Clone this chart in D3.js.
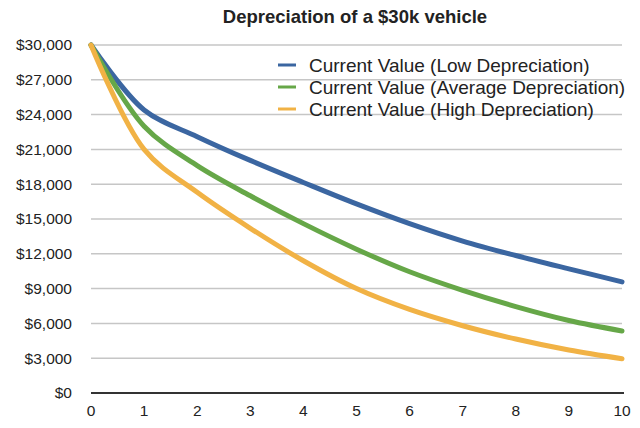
<!DOCTYPE html>
<html>
<head>
<meta charset="utf-8">
<script src="https://cdn.jsdelivr.net/npm/d3@7"></script>
<style>
  body { margin: 0; background: #fff; }
  text { font-family: "Liberation Sans", Arial, sans-serif; fill: #222; }
</style>
</head>
<body>
<svg id="chart" width="640" height="428"></svg>
<script>
'use strict';

var years = [0, 1, 2, 3, 4, 5, 6, 7, 8, 9, 10];
var lowDep = [30000, 24400, 22100, 20050, 18150, 16300, 14600, 13100, 11850, 10700, 9580];
var avgDep = [30000, 23000, 19600, 17000, 14600, 12400, 10450, 8850, 7450, 6250, 5350];
var highDep = [30000, 21000, 17300, 14200, 11400, 9000, 7200, 5800, 4650, 3700, 2950];
var yTicks = [0, 3000, 6000, 9000, 12000, 15000, 18000, 21000, 24000, 27000, 30000];
var seriesNames = ["Current Value (Low Depreciation)", "Current Value (Average Depreciation)", "Current Value (High Depreciation)"];

var colors = ["#3b66a1", "#66a748", "#f1b245"];

var svg = d3.select("#chart");
var margin = {left: 91, right: 18, top: 45, bottom: 35};
var width = 640, height = 428;

var x = d3.scaleLinear().domain([0, 10]).range([margin.left, width - margin.right]);
var y = d3.scaleLinear().domain([0, 30000]).range([height - margin.bottom, margin.top]);

// gridlines
svg.append("g")
   .selectAll("line")
   .data(yTicks.filter(function(d) { return d > 0; }))
   .join("line")
   .attr("x1", x(0)).attr("x2", x(10))
   .attr("y1", function(d) { return y(d); })
   .attr("y2", function(d) { return y(d); })
   .attr("stroke", "#c6c6c6")
   .attr("stroke-width", 1.5);

// y labels
var fmt = d3.format(",");
svg.append("g")
   .selectAll("text")
   .data(yTicks)
   .join("text")
   .attr("x", 72)
   .attr("y", function(d) { return y(d); })
   .attr("dy", "0.35em")
   .attr("text-anchor", "end")
   .attr("font-size", 15.5)
   .text(function(d) { return "$" + fmt(d); });

// x axis line
svg.append("line")
   .attr("x1", x(0)).attr("x2", x(10) + 2)
   .attr("y1", y(0)).attr("y2", y(0))
   .attr("stroke", "#333")
   .attr("stroke-width", 2);

svg.append("g")
   .selectAll("text")
   .data(years)
   .join("text")
   .attr("x", function(d) { return x(d); })
   .attr("y", y(0) + 23)
   .attr("text-anchor", "middle")
   .attr("font-size", 15.5)
   .text(function(d) { return d; });

// lines
var line = d3.line()
             .x(function(d, i) { return x(years[i]); })
             .y(function(d) { return y(d); })
             .curve(d3.curveCatmullRom.alpha(0.5));

[lowDep, avgDep, highDep].forEach(function(s, i) {
    svg.append("path")
       .datum(s)
       .attr("fill", "none")
       .attr("stroke", colors[i])
       .attr("stroke-width", 5)
       .attr("stroke-linecap", "round")
       .attr("d", line);
});

// legend
var legend = svg.append("g").attr("transform", "translate(278,65)");
seriesNames.forEach(function(name, i) {
    legend.append("line")
          .attr("x1", 0).attr("x2", 18)
          .attr("y1", i * 22).attr("y2", i * 22)
          .attr("stroke", colors[i])
          .attr("stroke-width", 3);
    legend.append("text")
          .attr("x", 31)
          .attr("y", i * 22)
          .attr("dy", "0.35em")
          .attr("font-size", 19)
          .text(name);
});

// title
svg.append("text")
   .attr("x", 355)
   .attr("y", 23)
   .attr("text-anchor", "middle")
   .attr("font-size", 18.5)
   .attr("font-weight", "bold")
   .text("Depreciation of a $30k vehicle");
</script>
</body>
</html>
